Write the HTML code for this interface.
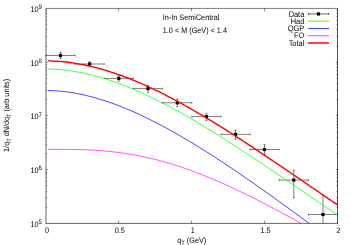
<!DOCTYPE html>
<html><head><meta charset="utf-8"><title>plot</title>
<style>html,body{margin:0;padding:0;background:#fff;}body{width:350px;height:245px;position:relative;overflow:hidden;font-family:"Liberation Sans",sans-serif;}</style></head>
<body>
<svg width="350" height="245" viewBox="0 0 350 245" style="position:absolute;left:0;top:0;will-change:transform">
<g stroke="#000" stroke-width="0.55" fill="none">
<path d="M45.7,8.45H337.85" stroke-width="0.5"/><path d="M45.7,223.4H337.85" stroke-width="0.6"/><path d="M46.0,8.45V223.4" stroke-width="0.6"/><path d="M337.5,8.45V223.4" stroke-width="0.7"/>
<path d="M46.0,207.5h1.0 M337.5,207.5h-1.0 M46.0,197.5h1.0 M337.5,197.5h-1.0 M46.0,191.5h1.0 M337.5,191.5h-1.0 M46.0,185.5h1.0 M337.5,185.5h-1.0 M46.0,181.5h1.0 M337.5,181.5h-1.0 M46.0,177.5h1.0 M337.5,177.5h-1.0 M46.0,174.5h1.0 M337.5,174.5h-1.0 M46.0,172.5h1.0 M337.5,172.5h-1.0 M46.0,169.5h1.6 M337.5,169.5h-1.6 M46.0,153.5h1.0 M337.5,153.5h-1.0 M46.0,144.5h1.0 M337.5,144.5h-1.0 M46.0,137.5h1.0 M337.5,137.5h-1.0 M46.0,132.5h1.0 M337.5,132.5h-1.0 M46.0,127.5h1.0 M337.5,127.5h-1.0 M46.0,124.5h1.0 M337.5,124.5h-1.0 M46.0,121.5h1.0 M337.5,121.5h-1.0 M46.0,118.5h1.0 M337.5,118.5h-1.0 M46.0,115.5h1.6 M337.5,115.5h-1.6 M46.0,99.5h1.0 M337.5,99.5h-1.0 M46.0,90.5h1.0 M337.5,90.5h-1.0 M46.0,83.5h1.0 M337.5,83.5h-1.0 M46.0,78.5h1.0 M337.5,78.5h-1.0 M46.0,74.5h1.0 M337.5,74.5h-1.0 M46.0,70.5h1.0 M337.5,70.5h-1.0 M46.0,67.5h1.0 M337.5,67.5h-1.0 M46.0,64.5h1.0 M337.5,64.5h-1.0 M46.0,62.5h1.6 M337.5,62.5h-1.6 M46.0,46.5h1.0 M337.5,46.5h-1.0 M46.0,36.5h1.0 M337.5,36.5h-1.0 M46.0,29.5h1.0 M337.5,29.5h-1.0 M46.0,24.5h1.0 M337.5,24.5h-1.0 M46.0,20.5h1.0 M337.5,20.5h-1.0 M46.0,16.5h1.0 M337.5,16.5h-1.0 M46.0,13.5h1.0 M337.5,13.5h-1.0 M46.0,10.5h1.0 M337.5,10.5h-1.0 M118.5,223.4v-2.6 M118.5,8.45v2.6 M191.5,223.4v-2.6 M191.5,8.45v2.6 M264.5,223.4v-2.6 M264.5,8.45v2.6" stroke-width="0.5"/>
</g>
<path d="M46.0,55.5H75.1 M46.0,54.5v2 M75.1,54.5v2 M60.5,52.2V58.7 M59.5,52.2h2 M59.5,58.7h2 M75.0,64.0H104.2 M75.0,63.0v2 M104.2,63.0v2 M89.6,61.8V66.2 M88.6,61.8h2 M88.6,66.2h2 M104.2,78.4H133.4 M104.2,77.4v2 M133.4,77.4v2 M118.8,75.8V81.3 M117.8,75.8h2 M117.8,81.3h2 M133.4,88.6H162.6 M133.4,87.6v2 M162.6,87.6v2 M148.0,85.3V92.2 M147.0,85.3h2 M147.0,92.2h2 M162.7,102.8H191.9 M162.7,101.8v2 M191.9,101.8v2 M177.3,99.0V106.6 M176.3,99.0h2 M176.3,106.6h2 M191.8,116.6H221.0 M191.8,115.6v2 M221.0,115.6v2 M206.4,113.4V120.7 M205.4,113.4h2 M205.4,120.7h2 M220.9,134.4H250.1 M220.9,133.4v2 M250.1,133.4v2 M235.5,130.2V139.4 M234.5,130.2h2 M234.5,139.4h2 M249.9,149.5H279.1 M249.9,148.5v2 M279.1,148.5v2 M264.5,144.6V154.5 M263.5,144.6h2 M263.5,154.5h2 M279.2,180.1H308.4 M279.2,179.1v2 M308.4,179.1v2 M293.8,170.2V197.6 M292.8,170.2h2 M292.8,197.6h2 M308.4,214.5H337.5 M308.4,213.5v2 M337.5,213.5v2 M323.0,194.8V223.4 M322.0,194.8h2" stroke="#000" stroke-width="0.5" fill="none"/>
<rect x="58.9" y="53.9" width="3.2" height="3.2" fill="#000"/>
<rect x="88.0" y="62.4" width="3.2" height="3.2" fill="#000"/>
<rect x="117.2" y="76.8" width="3.2" height="3.2" fill="#000"/>
<rect x="146.4" y="87.0" width="3.2" height="3.2" fill="#000"/>
<rect x="175.7" y="101.2" width="3.2" height="3.2" fill="#000"/>
<rect x="204.8" y="115.0" width="3.2" height="3.2" fill="#000"/>
<rect x="233.9" y="132.8" width="3.2" height="3.2" fill="#000"/>
<rect x="262.9" y="147.9" width="3.2" height="3.2" fill="#000"/>
<rect x="292.2" y="178.5" width="3.2" height="3.2" fill="#000"/>
<rect x="321.4" y="212.9" width="3.2" height="3.2" fill="#000"/>
<path d="M47.8,69.1 L49.8,69.1 L51.8,69.2 L53.8,69.3 L55.8,69.4 L57.8,69.5 L59.8,69.7 L61.8,69.8 L63.8,70.0 L65.8,70.3 L67.8,70.5 L69.8,70.8 L71.8,71.1 L73.8,71.4 L75.8,71.7 L77.8,72.0 L79.8,72.4 L81.8,72.8 L83.8,73.2 L85.8,73.7 L87.8,74.1 L89.8,74.6 L91.8,75.1 L93.8,75.6 L95.8,76.1 L97.8,76.7 L99.8,77.2 L101.8,77.8 L103.8,78.4 L105.8,79.0 L107.8,79.7 L109.8,80.3 L111.8,81.0 L113.8,81.7 L115.8,82.4 L117.8,83.1 L119.8,83.9 L121.8,84.6 L123.8,85.4 L125.8,86.2 L127.8,87.0 L129.8,87.8 L131.8,88.6 L133.8,89.5 L135.8,90.3 L137.8,91.2 L139.8,92.1 L141.8,93.0 L143.8,93.9 L145.8,94.8 L147.8,95.8 L149.8,96.7 L151.8,97.7 L153.8,98.7 L155.8,99.7 L157.8,100.7 L159.8,101.7 L161.8,102.7 L163.8,103.7 L165.8,104.8 L167.8,105.8 L169.8,106.9 L171.8,108.0 L173.8,109.0 L175.8,110.1 L177.8,111.2 L179.8,112.3 L181.8,113.5 L183.8,114.6 L185.8,115.7 L187.8,116.9 L189.8,118.0 L191.8,119.2 L193.8,120.4 L195.8,121.5 L197.8,122.7 L199.8,123.9 L201.8,125.1 L203.8,126.3 L205.8,127.5 L207.8,128.8 L209.8,130.0 L211.8,131.2 L213.8,132.5 L215.8,133.7 L217.8,135.0 L219.8,136.2 L221.8,137.5 L223.8,138.7 L225.8,140.0 L227.8,141.3 L229.8,142.6 L231.8,143.9 L233.8,145.1 L235.8,146.4 L237.8,147.7 L239.8,149.0 L241.8,150.3 L243.8,151.7 L245.8,153.0 L247.8,154.3 L249.8,155.6 L251.8,156.9 L253.8,158.2 L255.8,159.6 L257.8,160.9 L259.8,162.2 L261.8,163.6 L263.8,164.9 L265.8,166.3 L267.8,167.6 L269.8,168.9 L271.8,170.3 L273.8,171.6 L275.8,173.0 L277.8,174.3 L279.8,175.7 L281.8,177.0 L283.8,178.4 L285.8,179.8 L287.8,181.1 L289.8,182.5 L291.8,183.8 L293.8,185.2 L295.8,186.6 L297.8,187.9 L299.8,189.3 L301.8,190.7 L303.8,192.0 L305.8,193.4 L307.8,194.8 L309.8,196.1 L311.8,197.5 L313.8,198.9 L315.8,200.3 L317.8,201.6 L319.8,203.0 L321.8,204.4 L323.8,205.7 L325.8,207.1 L327.8,208.5 L329.8,209.9 L331.8,211.3 L333.8,212.6 L335.8,214.0 L337.5,215.2" fill="none" stroke="#00ff00" stroke-width="0.75"/>
<path d="M47.8,90.5 L49.8,90.5 L51.8,90.6 L53.8,90.7 L55.8,90.8 L57.8,91.0 L59.8,91.1 L61.8,91.3 L63.8,91.5 L65.8,91.8 L67.8,92.0 L69.8,92.3 L71.8,92.6 L73.8,92.9 L75.8,93.3 L77.8,93.7 L79.8,94.1 L81.8,94.5 L83.8,94.9 L85.8,95.4 L87.8,95.9 L89.8,96.4 L91.8,96.9 L93.8,97.4 L95.8,98.0 L97.8,98.6 L99.8,99.2 L101.8,99.8 L103.8,100.4 L105.8,101.1 L107.8,101.7 L109.8,102.4 L111.8,103.1 L113.8,103.8 L115.8,104.6 L117.8,105.3 L119.8,106.1 L121.8,106.9 L123.8,107.7 L125.8,108.5 L127.8,109.4 L129.8,110.2 L131.8,111.1 L133.8,111.9 L135.8,112.8 L137.8,113.7 L139.8,114.7 L141.8,115.6 L143.8,116.5 L145.8,117.5 L147.8,118.5 L149.8,119.5 L151.8,120.5 L153.8,121.5 L155.8,122.5 L157.8,123.5 L159.8,124.6 L161.8,125.6 L163.8,126.7 L165.8,127.8 L167.8,128.9 L169.8,130.0 L171.8,131.1 L173.8,132.2 L175.8,133.3 L177.8,134.5 L179.8,135.6 L181.8,136.8 L183.8,138.0 L185.8,139.1 L187.8,140.3 L189.8,141.5 L191.8,142.7 L193.8,143.9 L195.8,145.2 L197.8,146.4 L199.8,147.6 L201.8,148.9 L203.8,150.1 L205.8,151.4 L207.8,152.7 L209.8,153.9 L211.8,155.2 L213.8,156.5 L215.8,157.8 L217.8,159.1 L219.8,160.4 L221.8,161.7 L223.8,163.0 L225.8,164.4 L227.8,165.7 L229.8,167.0 L231.8,168.4 L233.8,169.7 L235.8,171.1 L237.8,172.4 L239.8,173.8 L241.8,175.2 L243.8,176.6 L245.8,177.9 L247.8,179.3 L249.8,180.7 L251.8,182.1 L253.8,183.5 L255.8,184.9 L257.8,186.3 L259.8,187.7 L261.8,189.1 L263.8,190.5 L265.8,191.9 L267.8,193.4 L269.8,194.8 L271.8,196.2 L273.8,197.6 L275.8,199.1 L277.8,200.5 L279.8,202.0 L281.8,203.4 L283.8,204.8 L285.8,206.3 L287.8,207.7 L289.8,209.2 L291.8,210.7 L293.8,212.1 L295.8,213.6 L297.8,215.0 L299.8,216.5 L301.8,218.0 L303.8,219.4 L305.8,220.9 L307.8,222.4 L309.2,223.4" fill="none" stroke="#0000ff" stroke-width="0.75"/>
<path d="M47.8,149.4 L49.8,149.3 L51.8,149.3 L53.8,149.3 L55.8,149.3 L57.8,149.3 L59.8,149.4 L61.8,149.4 L63.8,149.4 L65.8,149.4 L67.8,149.4 L69.8,149.4 L71.8,149.4 L73.8,149.5 L75.8,149.5 L77.8,149.6 L79.8,149.6 L81.8,149.7 L83.8,149.7 L85.8,149.8 L87.8,149.9 L89.8,150.0 L91.8,150.1 L93.8,150.2 L95.8,150.3 L97.8,150.5 L99.8,150.6 L101.8,150.8 L103.8,150.9 L105.8,151.1 L107.8,151.3 L109.8,151.5 L111.8,151.7 L113.8,151.9 L115.8,152.2 L117.8,152.4 L119.8,152.7 L121.8,153.0 L123.8,153.2 L125.8,153.5 L127.8,153.9 L129.8,154.2 L131.8,154.5 L133.8,154.9 L135.8,155.2 L137.8,155.6 L139.8,156.0 L141.8,156.4 L143.8,156.8 L145.8,157.3 L147.8,157.7 L149.8,158.2 L151.8,158.6 L153.8,159.1 L155.8,159.6 L157.8,160.1 L159.8,160.7 L161.8,161.2 L163.8,161.7 L165.8,162.3 L167.8,162.9 L169.8,163.5 L171.8,164.1 L173.8,164.7 L175.8,165.3 L177.8,166.0 L179.8,166.6 L181.8,167.3 L183.8,168.0 L185.8,168.7 L187.8,169.4 L189.8,170.1 L191.8,170.8 L193.8,171.5 L195.8,172.3 L197.8,173.1 L199.8,173.8 L201.8,174.6 L203.8,175.4 L205.8,176.2 L207.8,177.0 L209.8,177.8 L211.8,178.7 L213.8,179.5 L215.8,180.4 L217.8,181.2 L219.8,182.1 L221.8,183.0 L223.8,183.9 L225.8,184.8 L227.8,185.7 L229.8,186.6 L231.8,187.5 L233.8,188.5 L235.8,189.4 L237.8,190.4 L239.8,191.3 L241.8,192.3 L243.8,193.3 L245.8,194.2 L247.8,195.2 L249.8,196.2 L251.8,197.2 L253.8,198.2 L255.8,199.2 L257.8,200.2 L259.8,201.3 L261.8,202.3 L263.8,203.3 L265.8,204.4 L267.8,205.4 L269.8,206.4 L271.8,207.5 L273.8,208.6 L275.8,209.6 L277.8,210.7 L279.8,211.7 L281.8,212.8 L283.8,213.9 L285.8,215.0 L287.8,216.1 L289.8,217.1 L291.8,218.2 L293.8,219.3 L295.8,220.4 L297.8,221.5 L299.8,222.6 L301.2,223.4" fill="none" stroke="#ff00ff" stroke-width="0.7"/>
<path d="M47.8,60.9 L49.8,60.9 L51.8,61.0 L53.8,61.1 L55.8,61.2 L57.8,61.3 L59.8,61.4 L61.8,61.6 L63.8,61.8 L65.8,62.0 L67.8,62.2 L69.8,62.5 L71.8,62.8 L73.8,63.0 L75.8,63.4 L77.8,63.7 L79.8,64.1 L81.8,64.4 L83.8,64.8 L85.8,65.2 L87.8,65.7 L89.8,66.1 L91.8,66.6 L93.8,67.1 L95.8,67.6 L97.8,68.1 L99.8,68.7 L101.8,69.2 L103.8,69.8 L105.8,70.4 L107.8,71.0 L109.8,71.6 L111.8,72.3 L113.8,72.9 L115.8,73.6 L117.8,74.3 L119.8,75.0 L121.8,75.7 L123.8,76.5 L125.8,77.2 L127.8,78.0 L129.8,78.8 L131.8,79.6 L133.8,80.4 L135.8,81.2 L137.8,82.1 L139.8,82.9 L141.8,83.8 L143.8,84.7 L145.8,85.6 L147.8,86.5 L149.8,87.4 L151.8,88.4 L153.8,89.3 L155.8,90.3 L157.8,91.2 L159.8,92.2 L161.8,93.2 L163.8,94.2 L165.8,95.2 L167.8,96.3 L169.8,97.3 L171.8,98.3 L173.8,99.4 L175.8,100.5 L177.8,101.6 L179.8,102.6 L181.8,103.7 L183.8,104.8 L185.8,106.0 L187.8,107.1 L189.8,108.2 L191.8,109.4 L193.8,110.5 L195.8,111.7 L197.8,112.8 L199.8,114.0 L201.8,115.2 L203.8,116.4 L205.8,117.6 L207.8,118.8 L209.8,120.0 L211.8,121.2 L213.8,122.4 L215.8,123.7 L217.8,124.9 L219.8,126.2 L221.8,127.4 L223.8,128.7 L225.8,129.9 L227.8,131.2 L229.8,132.5 L231.8,133.7 L233.8,135.0 L235.8,136.3 L237.8,137.6 L239.8,138.9 L241.8,140.2 L243.8,141.5 L245.8,142.8 L247.8,144.1 L249.8,145.4 L251.8,146.7 L253.8,148.1 L255.8,149.4 L257.8,150.7 L259.8,152.1 L261.8,153.4 L263.8,154.7 L265.8,156.1 L267.8,157.4 L269.8,158.8 L271.8,160.1 L273.8,161.5 L275.8,162.8 L277.8,164.2 L279.8,165.5 L281.8,166.9 L283.8,168.2 L285.8,169.6 L287.8,170.9 L289.8,172.3 L291.8,173.7 L293.8,175.0 L295.8,176.4 L297.8,177.8 L299.8,179.1 L301.8,180.5 L303.8,181.9 L305.8,183.2 L307.8,184.6 L309.8,186.0 L311.8,187.3 L313.8,188.7 L315.8,190.1 L317.8,191.4 L319.8,192.8 L321.8,194.2 L323.8,195.5 L325.8,196.9 L327.8,198.3 L329.8,199.6 L331.8,201.0 L333.8,202.4 L335.8,203.7 L337.5,204.9" fill="none" stroke="#ff0000" stroke-width="1.4"/>
<path d="M308.5,13.95H328.5 M308.5,12.95v2 M328.5,12.95v2" stroke="#000" stroke-width="0.6"/>
<rect x="316.9" y="12.35" width="3.2" height="3.2" fill="#000"/>
<path d="M308,21.2H329" stroke="#00ff00" stroke-width="0.75"/>
<path d="M308,28.45H329" stroke="#0000ff" stroke-width="0.75"/>
<path d="M308,35.7H329" stroke="#ff00ff" stroke-width="0.75"/>
<path d="M308,43.0H329" stroke="#ff0000" stroke-width="1.5"/>
<text transform="translate(304.3,16.7) scale(0.92,1)" font-family="Liberation Sans, sans-serif" font-size="8.07" text-anchor="end" fill="#000" text-rendering="geometricPrecision">Data</text>
<text transform="translate(304.3,23.95) scale(0.92,1)" font-family="Liberation Sans, sans-serif" font-size="8.07" text-anchor="end" fill="#000" text-rendering="geometricPrecision">Had</text>
<text transform="translate(304.3,31.2) scale(0.92,1)" font-family="Liberation Sans, sans-serif" font-size="8.07" text-anchor="end" fill="#000" text-rendering="geometricPrecision">QGP</text>
<text transform="translate(304.3,38.45) scale(0.92,1)" font-family="Liberation Sans, sans-serif" font-size="8.07" text-anchor="end" fill="#000" text-rendering="geometricPrecision">FO</text>
<text transform="translate(304.3,45.75) scale(0.92,1)" font-family="Liberation Sans, sans-serif" font-size="8.07" text-anchor="end" fill="#000" text-rendering="geometricPrecision">Total</text>
<text transform="translate(162.8,19.8) scale(0.92,1)" font-family="Liberation Sans, sans-serif" font-size="7.90" text-anchor="start" fill="#000" text-rendering="geometricPrecision">In-In SemiCentral</text>
<text transform="translate(162.8,32.8) scale(0.92,1)" font-family="Liberation Sans, sans-serif" font-size="7.90" text-anchor="start" fill="#000" text-rendering="geometricPrecision">1.0 &lt; M (GeV) &lt; 1.4</text>
<text transform="translate(41.9,226.9) scale(0.92,1)" font-family="Liberation Sans, sans-serif" font-size="7.90" text-anchor="end" fill="#000" text-rendering="geometricPrecision">10<tspan dy="-2.9" font-size="6.54">5</tspan></text>
<text transform="translate(41.9,173.1625) scale(0.92,1)" font-family="Liberation Sans, sans-serif" font-size="7.90" text-anchor="end" fill="#000" text-rendering="geometricPrecision">10<tspan dy="-2.9" font-size="6.54">6</tspan></text>
<text transform="translate(41.9,119.425) scale(0.92,1)" font-family="Liberation Sans, sans-serif" font-size="7.90" text-anchor="end" fill="#000" text-rendering="geometricPrecision">10<tspan dy="-2.9" font-size="6.54">7</tspan></text>
<text transform="translate(41.9,65.6875) scale(0.92,1)" font-family="Liberation Sans, sans-serif" font-size="7.90" text-anchor="end" fill="#000" text-rendering="geometricPrecision">10<tspan dy="-2.9" font-size="6.54">8</tspan></text>
<text transform="translate(41.9,11.949999999999989) scale(0.92,1)" font-family="Liberation Sans, sans-serif" font-size="7.90" text-anchor="end" fill="#000" text-rendering="geometricPrecision">10<tspan dy="-2.9" font-size="6.54">9</tspan></text>
<text transform="translate(46.9,232.9) scale(0.92,1)" font-family="Liberation Sans, sans-serif" font-size="7.90" text-anchor="middle" fill="#000" text-rendering="geometricPrecision">0</text>
<text transform="translate(119.775,232.9) scale(0.92,1)" font-family="Liberation Sans, sans-serif" font-size="7.90" text-anchor="middle" fill="#000" text-rendering="geometricPrecision">0.5</text>
<text transform="translate(192.65,232.9) scale(0.92,1)" font-family="Liberation Sans, sans-serif" font-size="7.90" text-anchor="middle" fill="#000" text-rendering="geometricPrecision">1</text>
<text transform="translate(265.525,232.9) scale(0.92,1)" font-family="Liberation Sans, sans-serif" font-size="7.90" text-anchor="middle" fill="#000" text-rendering="geometricPrecision">1.5</text>
<text transform="translate(338.4,232.9) scale(0.92,1)" font-family="Liberation Sans, sans-serif" font-size="7.90" text-anchor="middle" fill="#000" text-rendering="geometricPrecision">2</text>
<text transform="translate(191.7,242.6) scale(0.92,1)" font-family="Liberation Sans, sans-serif" font-size="7.90" text-anchor="middle" fill="#000" text-rendering="geometricPrecision">q<tspan dy="2.2" font-size="6.32">T</tspan><tspan dy="-2.2"> (GeV)</tspan></text>
<text transform="translate(9.3,115.4) rotate(-90) scale(0.92,1)" font-family="Liberation Sans, sans-serif" font-size="7.90" text-anchor="middle" fill="#000" text-rendering="geometricPrecision">1/q<tspan dy="1.5" font-size="6.10">T</tspan><tspan dy="-1.5"> dN/dq</tspan><tspan dy="1.5" font-size="6.10">T</tspan><tspan dy="-1.5"> (arb units)</tspan></text>
</svg>
</body></html>
